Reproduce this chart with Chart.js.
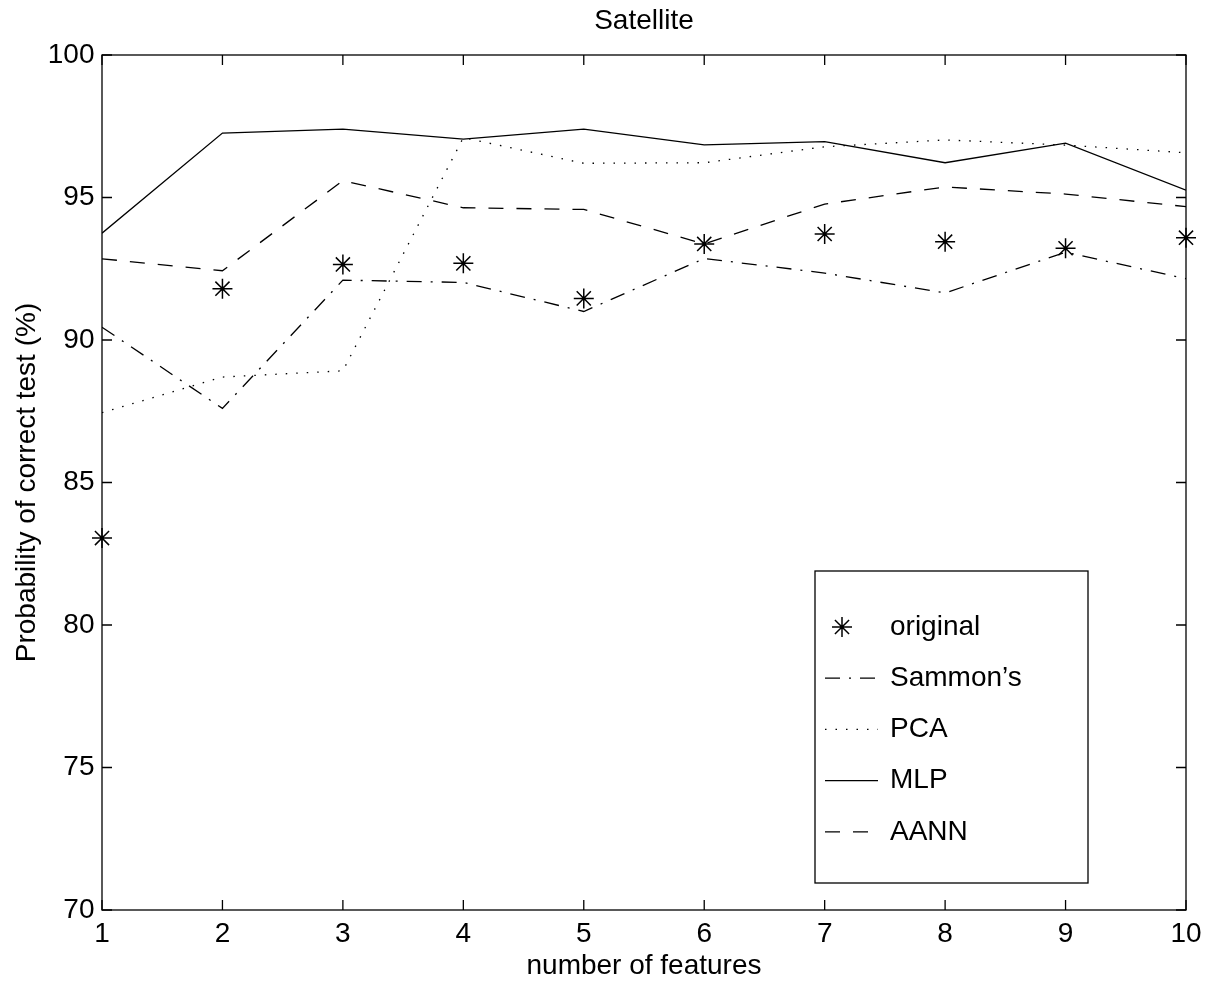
<!DOCTYPE html>
<html>
<head>
<meta charset="utf-8">
<script src="https://cdn.jsdelivr.net/npm/chart.js@4"></script>
<style>
  html, body { margin: 0; padding: 0; background: #fff; }
  #wrap { width: 1215px; height: 987px; }
</style>
</head>
<body>
<div id="wrap"><canvas id="satChart" width="1215" height="987"></canvas></div>
<script>
// number of features
const features = [1, 2, 3, 4, 5, 6, 7, 8, 9, 10];

// probability of correct test (%) per method
const original = [83.05, 91.8, 92.65, 92.69, 91.46, 93.37, 93.72, 93.45, 93.22, 93.59];
const sammons  = [90.45, 87.6, 92.1, 92.02, 91.0, 92.86, 92.35, 91.65, 93.08, 92.15];
const pca      = [87.45, 88.7, 88.92, 97.1, 96.2, 96.22, 96.78, 97.02, 96.84, 96.57];
const mlp      = [93.75, 97.26, 97.4, 97.05, 97.4, 96.85, 96.96, 96.22, 96.91, 95.26];
const aann     = [92.85, 92.43, 95.59, 94.64, 94.58, 93.37, 94.77, 95.37, 95.12, 94.68];

const yTicks = [70, 75, 80, 85, 90, 95, 100];

const FONT = 'Liberation Sans, Arial, Helvetica, sans-serif';
Chart.defaults.color = '#000';
Chart.defaults.font.family = FONT;
Chart.defaults.font.size = 28;

const pts = arr => features.map((f, i) => ({ x: f, y: arr[i] }));

const lineDs = (label, arr, dash) => ({
  label,
  data: pts(arr),
  borderColor: '#000',
  borderWidth: 1.3,
  borderDash: dash,
  pointRadius: 0,
  tension: 0,
  fill: false
});

// MATLAB style box with inward ticks on all four sides
const boxTicks = {
  id: 'boxTicks',
  afterDraw(chart) {
    const { ctx, chartArea: a, scales } = chart;
    const len = 10;
    ctx.save();
    ctx.strokeStyle = '#000';
    ctx.lineWidth = 1.3;
    ctx.strokeRect(a.left, a.top, a.right - a.left, a.bottom - a.top);
    ctx.beginPath();
    scales.x.ticks.forEach(t => {
      const px = scales.x.getPixelForValue(t.value);
      ctx.moveTo(px, a.bottom); ctx.lineTo(px, a.bottom - len);
      ctx.moveTo(px, a.top); ctx.lineTo(px, a.top + len);
    });
    scales.y.ticks.forEach(t => {
      const py = scales.y.getPixelForValue(t.value);
      ctx.moveTo(a.left, py); ctx.lineTo(a.left + len, py);
      ctx.moveTo(a.right, py); ctx.lineTo(a.right - len, py);
    });
    ctx.stroke();
    ctx.restore();
  }
};

// boxed legend inside the plot, lower right
const boxLegend = {
  id: 'boxLegend',
  afterDraw(chart) {
    const { ctx } = chart;
    const bx = 815, by = 571, bw = 273, bh = 312;
    ctx.save();
    ctx.fillStyle = '#fff';
    ctx.fillRect(bx, by, bw, bh);
    ctx.strokeStyle = '#000';
    ctx.lineWidth = 1.3;
    ctx.strokeRect(bx, by, bw, bh);
    ctx.font = '28px ' + FONT;
    ctx.textBaseline = 'middle';
    ctx.fillStyle = '#000';
    chart.data.datasets.forEach((ds, i) => {
      const y = 627 + i * 51.2;
      ctx.beginPath();
      if (ds.pointStyle === 'star') {
        const r = 10, cx = 842;
        ctx.setLineDash([]);
        ctx.lineWidth = 1.5;
        ctx.moveTo(cx, y - r); ctx.lineTo(cx, y + r);
        const d = r * Math.SQRT1_2;
        ctx.moveTo(cx - d, y - d); ctx.lineTo(cx + d, y + d);
        ctx.moveTo(cx - d, y + d); ctx.lineTo(cx + d, y - d);
        ctx.moveTo(cx - r, y); ctx.lineTo(cx + r, y);
      } else {
        ctx.lineWidth = 1.3;
        ctx.setLineDash(ds.borderDash || []);
        ctx.moveTo(825, y); ctx.lineTo(878, y);
      }
      ctx.stroke();
      ctx.fillText(ds.label, 890, y);
    });
    ctx.restore();
  }
};

new Chart(document.getElementById('satChart'), {
  type: 'line',
  data: {
    datasets: [
      {
        label: 'original',
        data: pts(original),
        showLine: false,
        pointStyle: 'star',
        pointRadius: 10,
        pointBorderWidth: 1.5,
        borderColor: '#000',
        backgroundColor: '#000',
        clip: false
      },
      lineDs("Sammon\u2019s", sammons, [15, 9, 2, 9]),
      lineDs('PCA', pca, [1.5, 9]),
      lineDs('MLP', mlp, []),
      lineDs('AANN', aann, [15, 13])
    ]
  },
  options: {
    responsive: false,
    animation: false,
    layout: { padding: { left: 0, right: 29, top: 0, bottom: 0 } },
    plugins: {
      legend: { display: false },
      tooltip: { enabled: false },
      title: {
        display: true,
        fullSize: false,
        text: 'Satellite',
        color: '#000',
        font: { size: 28, weight: 'normal', lineHeight: 1.2 },
        padding: { top: 4.5, bottom: 16.9 }
      }
    },
    scales: {
      x: {
        type: 'linear',
        min: 1,
        max: 10,
        afterFit: s => { s.height = 77; },
        afterBuildTicks: s => { s.ticks = features.map(v => ({ value: v })); },
        grid: { display: false, drawTicks: false },
        border: { display: false },
        ticks: { padding: 7.5, autoSkip: false, maxRotation: 0 },
        title: {
          display: true,
          text: 'number of features',
          font: { size: 28, lineHeight: 1 },
          padding: { top: 0, bottom: 7 }
        }
      },
      y: {
        min: 70,
        max: 100,
        afterFit: s => { s.width = 102; },
        afterBuildTicks: s => { s.ticks = yTicks.map(v => ({ value: v })); },
        grid: { display: false, drawTicks: false },
        border: { display: false },
        ticks: { padding: 7.5 },
        title: {
          display: true,
          text: 'Probability of correct test (%)',
          font: { size: 28, lineHeight: 1.2 },
          padding: { top: 10, bottom: 0 }
        }
      }
    }
  },
  plugins: [boxTicks, boxLegend]
});
</script>
</body>
</html>
